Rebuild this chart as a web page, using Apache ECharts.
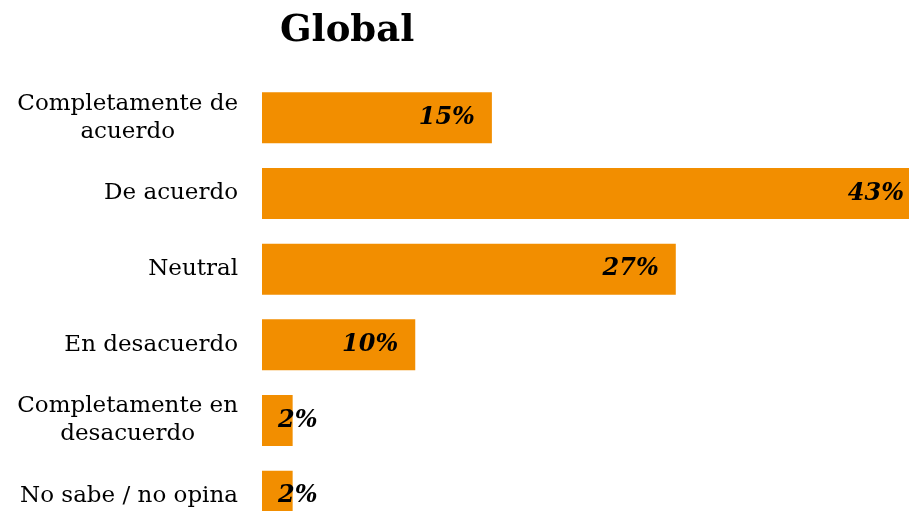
<!DOCTYPE html>
<html>
<head>
<meta charset="utf-8">
<script src="https://cdn.jsdelivr.net/npm/echarts@6/dist/echarts.min.js"></script>
<style>
  html, body { margin: 0; padding: 0; background: #fff; }
  #chart { width: 909px; height: 511px; }
</style>
</head>
<body>
<div id="chart"></div>
<script>
// datos
var categories = [
  'Completamente de\nacuerdo',
  'De acuerdo',
  'Neutral',
  'En desacuerdo',
  'Completamente en\ndesacuerdo',
  'No sabe / no opina'
];
var values = [15, 43, 27, 10, 2, 2];
var titleText = 'Global';

var serif = '"DejaVu Serif", "Liberation Serif", Georgia, serif';
var chart = echarts.init(document.getElementById('chart'));

var option = {
  animation: false,
  title: {
    text: titleText,
    left: 275,
    top: 8,
    textStyle: { fontFamily: serif, fontSize: 37, fontWeight: 'bold', color: '#000' }
  },
  // el grafico original se sale del lienzo por la derecha y por abajo
  grid: {
    left: 262, width: 659, top: 80, height: 454,
    containLabel: false,
    outerBoundsMode: 'none'
  },
  xAxis: {
    type: 'value',
    min: 0,
    max: 43,
    show: false
  },
  yAxis: {
    type: 'category',
    inverse: true,
    data: categories,
    axisLine: { show: false },
    axisTick: { show: false },
    axisLabel: {
      margin: 24,
      align: 'right',
      color: '#000',
      fontFamily: serif,
      fontSize: 23,
      lineHeight: 28,
      formatter: function (v) {
        return v.split('\n').map(function (s) { return '{c|' + s + '}'; }).join('\n');
      },
      rich: {
        c: { align: 'center', fontFamily: serif, fontSize: 23, lineHeight: 28, color: '#000' }
      }
    }
  },
  series: [{
    type: 'bar',
    barWidth: 51,
    itemStyle: { color: '#F28E00' },
    data: values.map(function (v) {
      return {
        value: v,
        label: v < 5
          ? { position: 'insideLeft', distance: 16 }
          : { position: 'insideRight', distance: 17 }
      };
    }),
    label: {
      show: true,
      formatter: '{c}%',
      color: '#000',
      fontFamily: serif,
      fontSize: 24,
      fontWeight: 'bold',
      fontStyle: 'italic'
    }
  }]
};
chart.setOption(option);
</script>
</body>
</html>
